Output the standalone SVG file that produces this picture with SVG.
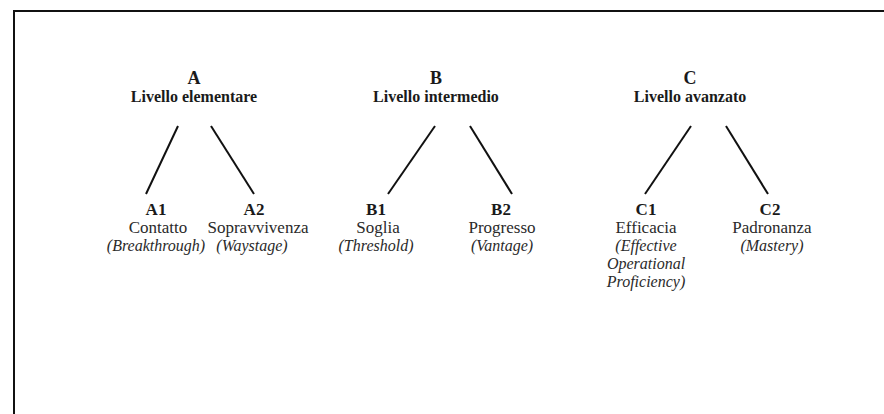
<svg xmlns="http://www.w3.org/2000/svg" width="884" height="414" viewBox="0 0 884 414">
<style>
text{font-family:"Liberation Serif","DejaVu Serif",serif;fill:#1a1a1a;text-anchor:middle}
.t{font-weight:bold;font-size:18px}
.h{font-weight:bold;font-size:16px}
.k{font-weight:bold;font-size:17px}
.r{font-size:17px;fill:#2a2a2a}
.i{font-size:16px;font-style:italic;fill:#2a2a2a}
.c{stroke:#111;stroke-width:2;fill:none}
</style>
<rect width="884" height="414" fill="#fff"/>
<path class="c" d="M14,414 V11 H884"/>
<g id="A"><text class="t" x="194" y="84">A</text><text class="h" x="194" y="102">Livello elementare</text></g>
<g id="B"><text class="t" x="436" y="84">B</text><text class="h" x="436" y="102">Livello intermedio</text></g>
<g id="C"><text class="t" x="690" y="84">C</text><text class="h" x="690" y="102">Livello avanzato</text></g>
<g id="A1"><text class="k" x="156" y="215">A1</text><text class="r" x="158" y="233">Contatto</text><text class="i" x="156" y="251">(Breakthrough)</text></g>
<g id="A2"><text class="k" x="254" y="215">A2</text><text class="r" x="258" y="233">Sopravvivenza</text><text class="i" x="252" y="251">(Waystage)</text></g>
<g id="B1"><text class="k" x="376" y="215">B1</text><text class="r" x="378" y="233">Soglia</text><text class="i" x="376" y="251">(Threshold)</text></g>
<g id="B2"><text class="k" x="501" y="215">B2</text><text class="r" x="502" y="233">Progresso</text><text class="i" x="502" y="251">(Vantage)</text></g>
<g id="C1"><text class="k" x="646" y="215">C1</text><text class="r" x="646" y="233">Efficacia</text><text class="i" x="646" y="251">(Effective</text><text class="i" x="646" y="269">Operational</text><text class="i" x="646" y="287">Proficiency)</text></g>
<g id="C2"><text class="k" x="770" y="215">C2</text><text class="r" x="772" y="233">Padronanza</text><text class="i" x="772" y="251">(Mastery)</text></g>
<g id="connectors" class="c">
<line x1="178" y1="126" x2="146" y2="194"/>
<line x1="211" y1="126" x2="254" y2="194"/>
<line x1="435" y1="126" x2="388" y2="194"/>
<line x1="470" y1="126" x2="512" y2="194"/>
<line x1="691" y1="126" x2="645" y2="194"/>
<line x1="726" y1="126" x2="768" y2="194"/>
</g>
</svg>
